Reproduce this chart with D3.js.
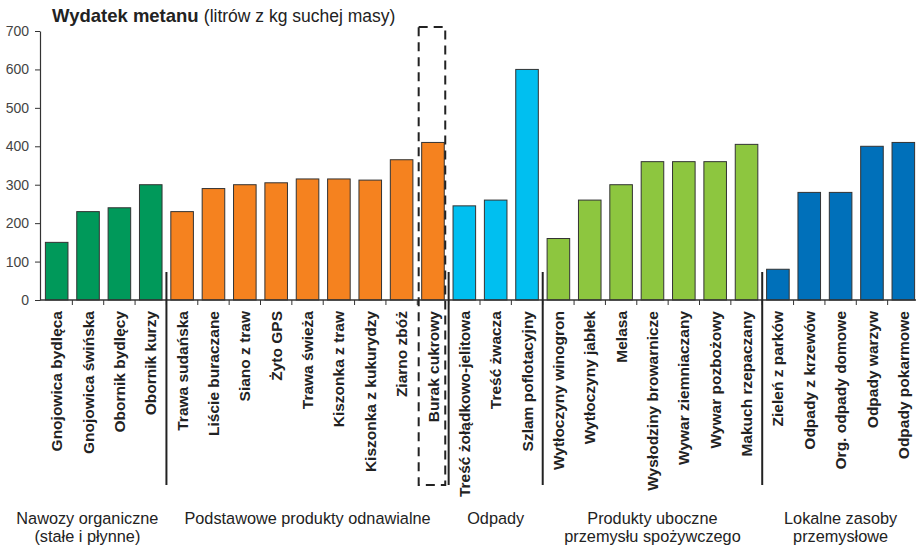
<!DOCTYPE html>
<html>
<head>
<meta charset="utf-8">
<script src="https://cdn.jsdelivr.net/npm/d3@7"></script>
<style>
  html, body { margin: 0; padding: 0; background: #fff; }
  svg { display: block; font-family: "Liberation Sans", Arial, sans-serif; }
</style>
</head>
<body>
<svg id="chart" width="924" height="547"></svg>
<script>
// Data
const categories = [
    'Gnojowica bydlęca', 'Gnojowica świńska', 'Obornik bydlęcy', 'Obornik kurzy',
    'Trawa sudańska', 'Liście buraczane', 'Siano z traw', 'Żyto GPS', 'Trawa świeża',
    'Kiszonka z traw', 'Kiszonka z kukurydzy', 'Ziarno zbóż', 'Burak cukrowy',
    'Treść żołądkowo-jelitowa', 'Treść żwacza', 'Szlam poflotacyjny',
    'Wytłoczyny winogron', 'Wytłoczyny jabłek', 'Melasa', 'Wysłodziny browarnicze',
    'Wywar ziemniaczany', 'Wywar pozbożowy', 'Makuch rzepaczany',
    'Zieleń z parków', 'Odpady z krzewów', 'Org. odpady domowe', 'Odpady warzyw', 'Odpady pokarmowe'
];
const values = [
    150, 230, 240, 300,
    230, 290, 300, 305, 315, 315, 312, 365, 410,
    245, 260, 600,
    160, 260, 300, 360, 360, 360, 405,
    80, 280, 280, 400, 410
];
const groupNames = [
    ['Nawozy organiczne', '(stałe i płynne)'],
    ['Podstawowe produkty odnawialne'],
    ['Odpady'],
    ['Produkty uboczne', 'przemysłu spożywczego'],
    ['Lokalne zasoby', 'przemysłowe']
];
const groupSizes = [4, 9, 3, 7, 5];
const yTicks = [0, 100, 200, 300, 400, 500, 600, 700];
const highlighted = 'Burak cukrowy';

// Styles
const groupColors = ['#00995a', '#f5821f', '#00bff0', '#8dc63f', '#0070ba'];

const svg = d3.select('#chart');

const x = d3.scaleBand()
    .domain(categories)
    .range([41, 919])
    .paddingInner(0.28)
    .paddingOuter(0.14);

const y = d3.scaleLinear()
    .domain([0, 700])
    .range([300, 31]);

// group index for each category
const groupOf = [];
groupSizes.forEach((n, g) => { for (let i = 0; i < n; i++) groupOf.push(g); });
const groupStart = groupSizes.map((n, g) => d3.sum(groupSizes.slice(0, g)));

const boundary = i => x(categories[i]) - x.step() * x.paddingInner() / 2;

// Title
const title = svg.append('text')
    .attr('x', 52)
    .attr('y', 22)
    .attr('fill', '#222');
title.append('tspan').attr('font-weight', 'bold').attr('font-size', 18.5).text('Wydatek metanu ');
title.append('tspan').attr('font-size', 17.5).text('(litrów z kg suchej masy)');

// Y axis
const yAxis = svg.append('g')
    .attr('transform', 'translate(40,0)')
    .call(d3.axisLeft(y).tickValues(yTicks).tickSize(5).tickSizeOuter(0).tickPadding(6));
yAxis.select('.domain').attr('stroke', '#333').attr('stroke-width', 1.2);
yAxis.selectAll('.tick line').attr('stroke', '#333');
yAxis.selectAll('.tick text')
    .attr('font-size', 14)
    .attr('fill', '#444')
    .attr('font-family', '"Liberation Sans", Arial, sans-serif');

// Bars
svg.append('g')
    .selectAll('rect')
    .data(categories)
    .join('rect')
    .attr('x', d => x(d))
    .attr('y', (d, i) => y(values[i]))
    .attr('width', x.bandwidth())
    .attr('height', (d, i) => y(0) - y(values[i]))
    .attr('fill', (d, i) => groupColors[groupOf[i]])
    .attr('stroke', '#333')
    .attr('stroke-width', 1);

// X axis line and boundary ticks
svg.append('line')
    .attr('x1', 40).attr('x2', 916)
    .attr('y1', y(0)).attr('y2', y(0))
    .attr('stroke', '#333')
    .attr('stroke-width', 1.5);

svg.append('g')
    .selectAll('line')
    .data(d3.range(1, categories.length))
    .join('line')
    .attr('x1', d => boundary(d)).attr('x2', d => boundary(d))
    .attr('y1', y(0)).attr('y2', y(0) + 5)
    .attr('stroke', '#333');

// Category labels
svg.append('g')
    .selectAll('text')
    .data(categories)
    .join('text')
    .attr('transform', d => `translate(${x(d) + x.bandwidth() / 2},311) rotate(-90)`)
    .attr('dy', '0.36em')
    .attr('text-anchor', 'end')
    .attr('font-size', 15.5)
    .attr('font-weight', 'bold')
    .attr('fill', '#222')
    .text(d => d);

// Group separators
const seps = groupStart.slice(1).map(i => boundary(i));
svg.append('g')
    .selectAll('line')
    .data(seps)
    .join('line')
    .attr('x1', d => d).attr('x2', d => d)
    .attr('y1', 272).attr('y2', 485)
    .attr('stroke', '#222')
    .attr('stroke-width', 2);

// Dashed box around highlighted bar
svg.append('rect')
    .attr('x', x(highlighted) - 3)
    .attr('y', 27)
    .attr('width', x.bandwidth() + 4)
    .attr('height', 458)
    .attr('fill', 'none')
    .attr('stroke', '#222')
    .attr('stroke-width', 2)
    .attr('stroke-dasharray', '9,6');

// Group labels
groupNames.forEach((lines, g) => {
    const left = boundary(groupStart[g]);
    const right = g < groupSizes.length - 1 ? boundary(groupStart[g + 1]) : 919;
    const t = svg.append('text')
        .attr('text-anchor', 'middle')
        .attr('font-size', 16.3)
        .attr('fill', '#222');
    lines.forEach((line, k) => {
        t.append('tspan').attr('x', 0).attr('y', 524 + k * 17.5).text(line);
    });
    // keep the label clear of the separator on its right
    const w = t.node().getBBox().width;
    let cx = (left + right) / 2;
    if (g < groupSizes.length - 1) cx = Math.min(cx, right - w / 2 - 8);
    t.selectAll('tspan').attr('x', cx);
});
</script>
</body>
</html>
